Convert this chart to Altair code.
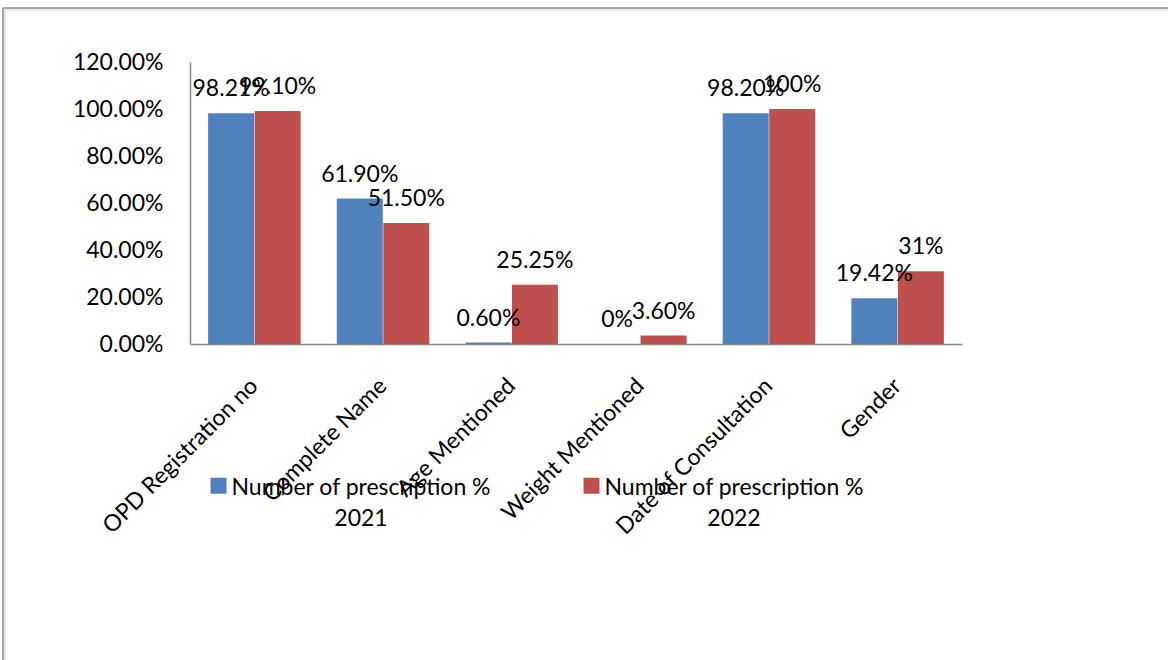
import altair as alt
import pandas as pd

# Prescription audit: share of prescriptions recording each item, 2021 vs 2022
categories = ["OPD Registration no", "Complete Name", "Age Mentioned",
              "Weight Mentioned", "Date of Consultation", "Gender"]
series = ["Number of prescription % 2021", "Number of prescription % 2022"]
values_2021 = [0.9821, 0.619, 0.006, 0.0, 0.982, 0.1942]
values_2022 = [0.991, 0.515, 0.2525, 0.036, 1.0, 0.31]
labels_2021 = ["98.21%", "61.90%", "0.60%", "0%", "98.20%", "19.42%"]
labels_2022 = ["99.10%", "51.50%", "25.25%", "3.60%", "100%", "31%"]
colors = ["#4F81BD", "#C0504D"]
y_ticks = [0, 0.2, 0.4, 0.6, 0.8, 1.0, 1.2]

rows = []
for name, vals, labs in ((series[0], values_2021, labels_2021),
                         (series[1], values_2022, labels_2022)):
    for cat, v, lab in zip(categories, vals, labs):
        rows.append({"category": cat, "series": name, "value": v, "label": lab})
df = pd.DataFrame(rows)

FONT = "Lato"
FS = 23
AXIS_GRAY = "#868686"
W, H = 772, 282
PAD = {"left": 190, "top": 62, "right": 206, "bottom": 316}

x_enc = alt.X(
    "category:N", sort=categories,
    scale=alt.Scale(paddingInner=0.277, paddingOuter=0.139),
    axis=alt.Axis(title=None, labelAngle=315, labelAlign="right",
                  labelBaseline="middle", labelPadding=38, ticks=False,
                  domainColor=AXIS_GRAY, domainWidth=1.5,
                  labelFont=FONT, labelFontSize=FS, labelColor="#000000",
                  labelLimit=0),
)
y_enc = alt.Y(
    "value:Q",
    scale=alt.Scale(domain=[0, 1.2], nice=False, zero=True),
    axis=alt.Axis(title=None, values=y_ticks, format=".2%", ticks=False,
                  grid=False, labelPadding=27, domainColor=AXIS_GRAY,
                  domainWidth=1.5, labelFont=FONT, labelFontSize=FS,
                  labelColor="#000000"),
)
off_enc = alt.XOffset("series:N", sort=series)

# legend swatch drawn a little below the label anchor so it sits beside the first text line
swatch = "M-1,0.125H1V2.125H-1Z"

color_enc = alt.Color(
    "series:N", sort=series,
    scale=alt.Scale(domain=series, range=colors),
    legend=alt.Legend(
        title=None, orient="none", direction="horizontal",
        legendX=17, legendY=403, padding=0,
        symbolType=swatch, symbolSize=256, symbolStrokeWidth=0,
        symbolOpacity=1,
        labelExpr="[substring(datum.label, 0, 24), substring(datum.label, 25)]",
        labelAlign="center", labelBaseline="top", labelOffset=131,
        labelFont=FONT, labelFontSize=FS, labelColor="#000000",
        labelLimit=0, columnPadding=89,
    ),
)

bars = alt.Chart(df).mark_bar(size=46).encode(
    x=x_enc, y=y_enc, xOffset=off_enc, color=color_enc,
)

value_labels = alt.Chart(df).mark_text(
    baseline="alphabetic", dy=-17, font=FONT, fontSize=FS, color="#000000",
).encode(
    x=alt.X("category:N", sort=categories),
    xOffset=off_enc,
    y=alt.Y("value:Q"),
    text="label:N",
)

# Chart-area frame: top and left edges (double grey rule), the rest runs off the page
bottom_edge = H + PAD["bottom"]
right_edge = W + PAD["right"]
one = alt.Data(values=[{}])
frame = [
    alt.Chart(one).mark_rule(color="#8a8a8a", strokeWidth=1.5).encode(
        x=alt.value(-187), x2=alt.value(right_edge), y=alt.value(-54)),
    alt.Chart(one).mark_rule(color="#8a8a8a", strokeWidth=1.5).encode(
        x=alt.value(-187), y=alt.value(-54), y2=alt.value(bottom_edge)),
    alt.Chart(one).mark_rule(color="#d0d0d0", strokeWidth=1).encode(
        x=alt.value(-185), x2=alt.value(right_edge), y=alt.value(-52)),
    alt.Chart(one).mark_rule(color="#d0d0d0", strokeWidth=1).encode(
        x=alt.value(-185), y=alt.value(-52), y2=alt.value(bottom_edge)),
]

chart = alt.layer(*frame, bars, value_labels).properties(
    width=W, height=H,
    autosize=alt.AutoSizeParams(type="none"),
    padding=PAD,
    background="#ffffff",
).configure(
    view=alt.ViewConfig(stroke=None),
    style={"guide-label": {"lineHeight": 31}},
)

chart.save("out.html", embed_options={"renderer": "svg", "actions": False})
